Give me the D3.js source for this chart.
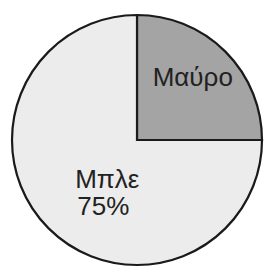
<!DOCTYPE html>
<html>
<head>
<meta charset="utf-8">
<script src="https://cdn.jsdelivr.net/npm/d3@7"></script>
<style>
  html, body { margin: 0; padding: 0; background: #fff; }
  svg { display: block; }
</style>
</head>
<body>
<div id="chart"></div>
<script>
const labels = ["Μαύρο", "Μπλε"];
const values = [25, 75];
const percentLabels = ["", "75%"];

const width = 265, height = 269;
const cx = 137, cy = 140, radius = 125;

const color = d3.scaleOrdinal().domain(labels).range(["#a4a4a4", "#ececec"]);

const svg = d3.select("#chart").append("svg")
  .attr("width", width)
  .attr("height", height);

const g = svg.append("g").attr("transform", `translate(${cx},${cy})`);

const pie = d3.pie().sort(null).value(d => d)(values);
const arc = d3.arc().innerRadius(0).outerRadius(radius);

g.selectAll("path.slice")
  .data(pie)
  .join("path")
  .attr("class", "slice")
  .attr("d", arc)
  .attr("fill", (d, i) => color(labels[i]))
  .attr("stroke", "#1a1a1a")
  .attr("stroke-width", 2.2)
  .attr("stroke-linejoin", "miter");

// label placement: centroid on a label arc, small nudge per slice
const labelArc = d3.arc().innerRadius(0).outerRadius(radius * 1.42);
const nudge = [[-7, 0], [33, -10]];

const text = g.selectAll("text.lbl")
  .data(pie)
  .join("text")
  .attr("class", "lbl")
  .attr("text-anchor", "middle")
  .attr("font-family", "'Liberation Sans', Arial, Helvetica, sans-serif")
  .attr("font-size", 26)
  .attr("fill", "#222")
  .attr("transform", (d, i) => {
    const [x, y] = labelArc.centroid(d);
    return `translate(${x + nudge[i][0]},${y + nudge[i][1]})`;
  });

text.append("tspan")
  .attr("x", 0)
  .attr("dy", (d, i) => percentLabels[i] ? "-0.2em" : "0.35em")
  .text((d, i) => labels[i]);

text.filter((d, i) => percentLabels[i])
  .append("tspan")
  .attr("x", -4)
  .attr("dy", "1.05em")
  .text(d => percentLabels[d.index]);
</script>
</body>
</html>
